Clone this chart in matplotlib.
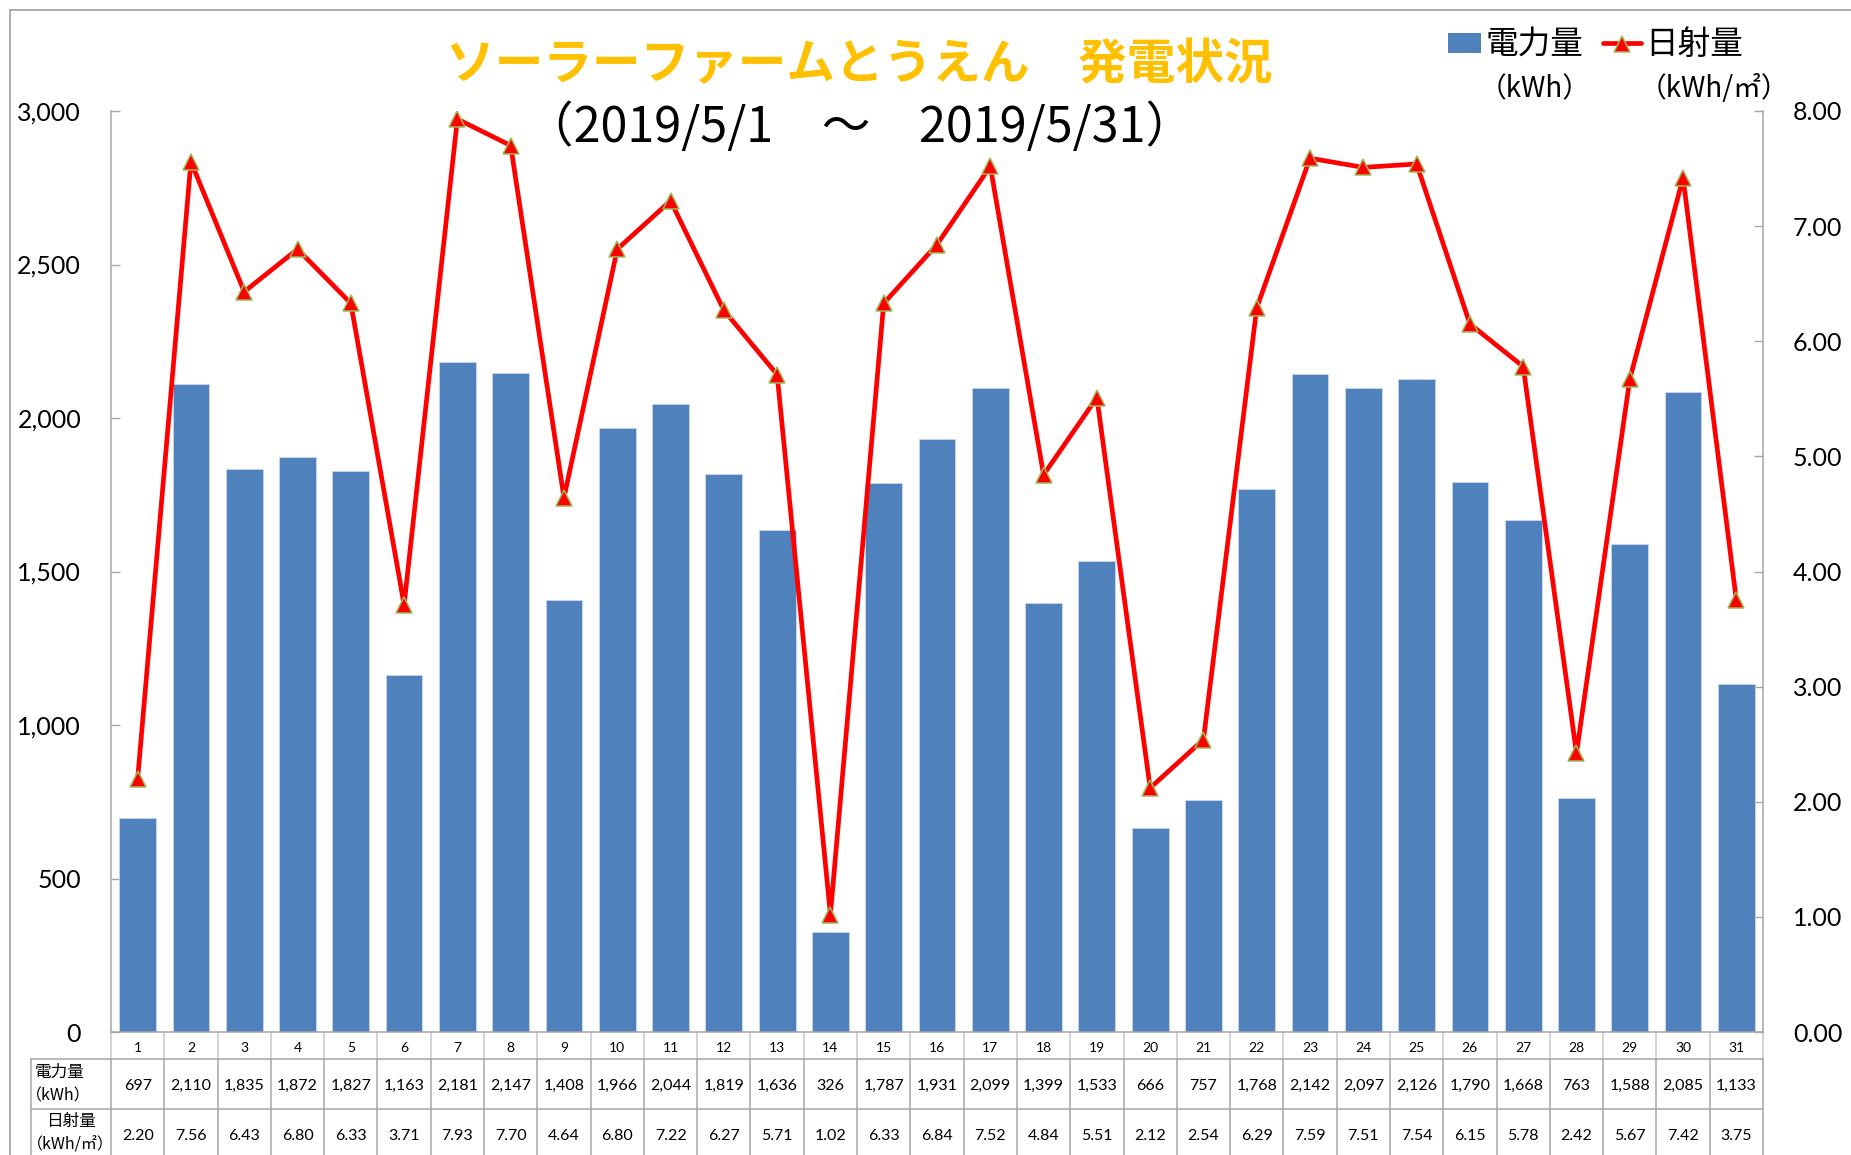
import matplotlib
matplotlib.use("Agg")
import matplotlib.pyplot as plt
from matplotlib.patches import Rectangle
from matplotlib.lines import Line2D
from matplotlib.ticker import FuncFormatter
from matplotlib.transforms import blended_transform_factory

plt.rcParams['font.family'] = ['Lato', 'Noto Sans CJK JP', 'DejaVu Sans']

# ---- data ----
days = list(range(1, 32))
power_kwh = [697, 2110, 1835, 1872, 1827, 1163, 2181, 2147, 1408, 1966, 2044,
             1819, 1636, 326, 1787, 1931, 2099, 1399, 1533, 666, 757, 1768,
             2142, 2097, 2126, 1790, 1668, 763, 1588, 2085, 1133]
irradiance = [2.20, 7.56, 6.43, 6.80, 6.33, 3.71, 7.93, 7.70, 4.64, 6.80, 7.22,
              6.27, 5.71, 1.02, 6.33, 6.84, 7.52, 4.84, 5.51, 2.12, 2.54, 6.29,
              7.59, 7.51, 7.54, 6.15, 5.78, 2.42, 5.67, 7.42, 3.75]
left_ticks = [0, 500, 1000, 1500, 2000, 2500, 3000]
right_ticks = [0, 1, 2, 3, 4, 5, 6, 7, 8]
title = "ソーラーファームとうえん　発電状況"
subtitle = "（2019/5/1　～　2019/5/31）"
series_names = ["電力量", "日射量"]
series_units = ["（kWh）", "（kWh/㎡）"]

W, H = 1851, 1155
BLUE = '#4F81BD'
RED = '#FF0000'
GREEN_EDGE = '#9BBB59'
GRAY = '#A6A6A6'
CJK = ['Noto Sans CJK JP', 'DejaVu Sans']


def fx(x):
    return x / W


def fy(y):
    return 1 - y / H


fig = plt.figure(figsize=(W / 100, H / 100), dpi=100)
ax_l, ax_r, ax_t, ax_b = 111, 1763, 111, 1032
ax = fig.add_axes([fx(ax_l), fy(ax_b), (ax_r - ax_l) / W, (ax_b - ax_t) / H])

x = list(range(len(days)))
ax.bar(x, power_kwh, width=0.69, color=BLUE, edgecolor='#C9D7EA', linewidth=0.6, zorder=2)
ax.set_xlim(-0.5, len(days) - 0.5)
ax.set_ylim(0, 3000)
ax.set_yticks(left_ticks)
ax.yaxis.set_major_formatter(FuncFormatter(lambda v, p: f"{int(v):,}"))
ax.tick_params(axis='x', bottom=False, labelbottom=False)
ax.tick_params(axis='y', direction='in', length=6.5, width=1.0, color=GRAY,
               pad=21.5, labelsize=18, labelcolor='black')
for s in ['top', 'right']:
    ax.spines[s].set_visible(False)
for s in ['left', 'bottom']:
    ax.spines[s].set_color(GRAY)
    ax.spines[s].set_linewidth(1.1)

ax2 = ax.twinx()
ax2.plot(x, irradiance, color=RED, lw=3.4, marker='^', ms=11,
         mfc=RED, mec=GREEN_EDGE, mew=1.1, zorder=3)
ax2.set_ylim(0, 8)
ax2.set_yticks(right_ticks)
ax2.yaxis.set_major_formatter(FuncFormatter(lambda v, p: f"{v:.2f}"))
ax2.tick_params(axis='y', direction='in', length=6.5, width=1.0, color=GRAY,
                pad=21.5, labelsize=18, labelcolor='black')
for s in ['top', 'left', 'bottom']:
    ax2.spines[s].set_visible(False)
ax2.spines['right'].set_color(GRAY)
ax2.spines['right'].set_linewidth(1.1)

# ---- chart border ----
fig.add_artist(Line2D([fx(10), fx(10)], [fy(10), fy(H + 5)], color=GRAY, lw=1.3))
fig.add_artist(Line2D([fx(10), fx(W + 5)], [fy(10), fy(10)], color=GRAY, lw=1.3))

# ---- data table ----
trans = blended_transform_factory(ax.transData, fig.transFigure)
row1_bottom, row2_bottom = 1059, 1109
for i in range(len(days) + 1):
    xb = i - 0.5
    ax.add_line(Line2D([xb, xb], [fy(ax_b), fy(row1_bottom)], transform=trans,
                       color='#C8C8C8', lw=1.1, clip_on=False))
    ax.add_line(Line2D([xb, xb], [fy(row1_bottom), fy(H + 5)], transform=trans,
                       color=GRAY, lw=1.1, clip_on=False))
for yy in [row1_bottom, row2_bottom]:
    fig.add_artist(Line2D([fx(31), fx(ax_r)], [fy(yy), fy(yy)], color=GRAY, lw=1.1))
fig.add_artist(Line2D([fx(31), fx(31)], [fy(row1_bottom), fy(H + 5)], color=GRAY, lw=1.1))

for i, d in enumerate(days):
    ax.text(i, fy(1052), str(d), transform=trans, ha='center', va='baseline',
            fontsize=10, clip_on=False)
    ax.text(i, fy(1090), f"{power_kwh[i]:,}", transform=trans, ha='center',
            va='baseline', fontsize=11.5, clip_on=False)
    ax.text(i, fy(1140), f"{irradiance[i]:.2f}", transform=trans, ha='center',
            va='baseline', fontsize=11.5, clip_on=False)

fig.text(fx(35), fy(1077), series_names[0], ha='left', va='baseline', fontsize=12, family=CJK)
fig.text(fx(58), fy(1100), series_units[0], ha='center', va='baseline', fontsize=11.5, family=CJK)
fig.text(fx(71), fy(1126), series_names[1], ha='center', va='baseline', fontsize=12, family=CJK)
fig.text(fx(70), fy(1150), series_units[1], ha='center', va='baseline', fontsize=11.5, family=CJK)

# ---- titles ----
fig.text(fx(859), fy(79), title, ha='center', va='baseline', fontsize=35,
         fontweight='bold', color='#FFC000', family=CJK)
fig.text(fx(860), fy(142), subtitle, ha='center', va='baseline', fontsize=35,
         color='black', family=CJK)

# ---- legend ----
fig.add_artist(Rectangle((fx(1448), fy(53)), (1481 - 1448) / W, 20 / H,
                         transform=fig.transFigure, facecolor=BLUE, edgecolor='none'))
fig.text(fx(1485), fy(54), series_names[0], ha='left', va='baseline', fontsize=23.5, family=CJK)
fig.add_artist(Line2D([fx(1603), fx(1641)], [fy(43), fy(43)], color=RED, lw=3.4,
                      solid_capstyle='round'))
fig.add_artist(Line2D([fx(1622)], [fy(44)], marker='^', ms=11, mfc=RED,
                      mec=GREEN_EDGE, mew=1.1, lw=0))
fig.text(fx(1645), fy(54), series_names[1], ha='left', va='baseline', fontsize=23.5, family=CJK)
fig.text(fx(1535), fy(97), series_units[0], ha='center', va='baseline', fontsize=20, family=CJK)
fig.text(fx(1714), fy(97), series_units[1], ha='center', va='baseline', fontsize=20, family=CJK)

fig.savefig("out.png", dpi=100)
